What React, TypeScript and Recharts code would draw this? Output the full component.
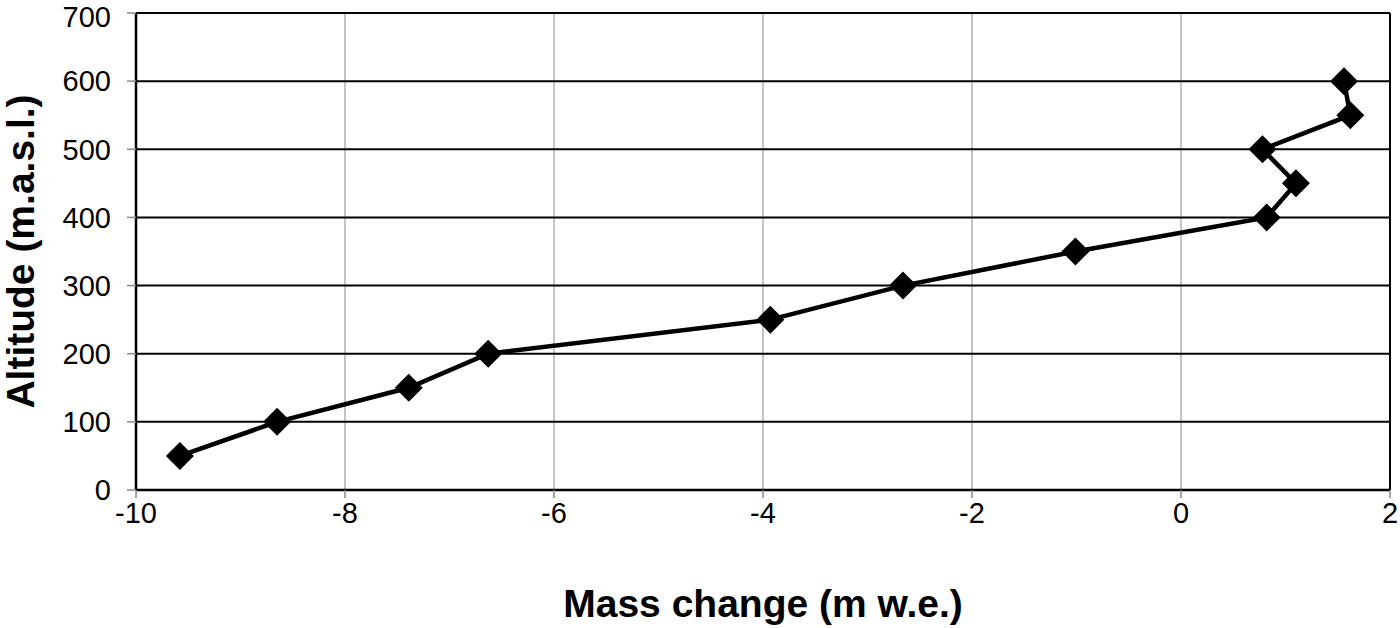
import { CartesianGrid, ReferenceLine, Scatter, ScatterChart, XAxis, YAxis } from "recharts"

const massChange = [-9.58, -8.65, -7.39, -6.63, -3.93, -2.66, -1.01, 0.82, 1.1, 0.78, 1.62, 1.56]
const altitude = [50, 100, 150, 200, 250, 300, 350, 400, 450, 500, 550, 600]
const xTicks = [-10, -8, -6, -4, -2, 0, 2]
const yTicks = [0, 100, 200, 300, 400, 500, 600, 700]

const points = massChange.map((x, i) => ({ x, y: altitude[i] }))

const font = "'Liberation Sans', Arial, sans-serif"

// rotated square marker, like the spreadsheet diamond
const Diamond = (props: any) => {
  const { cx, cy } = props
  const r = 14
  return (
    <polygon
      points={`${cx},${cy - r} ${cx + r},${cy} ${cx},${cy + r} ${cx - r},${cy}`}
      fill="#000"
    />
  )
}

export default function App() {
  return (
    <div style={{ position: "absolute", left: 0, top: 0, background: "#fff" }}>
      <ScatterChart width={1400} height={628} margin={{ top: 13, right: 10, bottom: 0, left: 0 }}>
        <CartesianGrid horizontal={false} stroke="#b0b0b0" strokeWidth={1.5} />
        <CartesianGrid vertical={false} stroke="#000" strokeWidth={2} />
        <XAxis
          type="number"
          dataKey="x"
          domain={[-10, 2]}
          ticks={xTicks}
          height={138}
          axisLine={{ stroke: "#000", strokeWidth: 2.5 }}
          tickLine={{ stroke: "#888", strokeWidth: 1.5 }}
          tickSize={8}
          tickMargin={4}
          tick={{ fontSize: 29, fill: "#000", fontFamily: font }}
          label={{
            value: "Mass change (m w.e.)",
            position: "insideBottom",
            offset: 11,
            style: { fontSize: 39, fontWeight: "bold", fill: "#000", fontFamily: font },
          }}
        />
        <YAxis
          type="number"
          dataKey="y"
          domain={[0, 700]}
          ticks={yTicks}
          width={136}
          axisLine={{ stroke: "#000", strokeWidth: 2.5 }}
          tickLine={{ stroke: "#888", strokeWidth: 1.5 }}
          tickSize={9}
          tickMargin={16}
          tick={{ fontSize: 29, fill: "#000", fontFamily: font }}
          label={{
            value: "Altitude (m.a.s.l.)",
            angle: -90,
            position: "insideLeft",
            offset: 20,
            style: { fontSize: 39, fontWeight: "bold", fill: "#000", fontFamily: font, textAnchor: "middle" },
          }}
        />
        <ReferenceLine x={2} stroke="#000" strokeWidth={2} />
        <Scatter
          data={points}
          line={{ stroke: "#000", strokeWidth: 4.5 }}
          shape={Diamond}
          isAnimationActive={false}
        />
      </ScatterChart>
    </div>
  )
}
